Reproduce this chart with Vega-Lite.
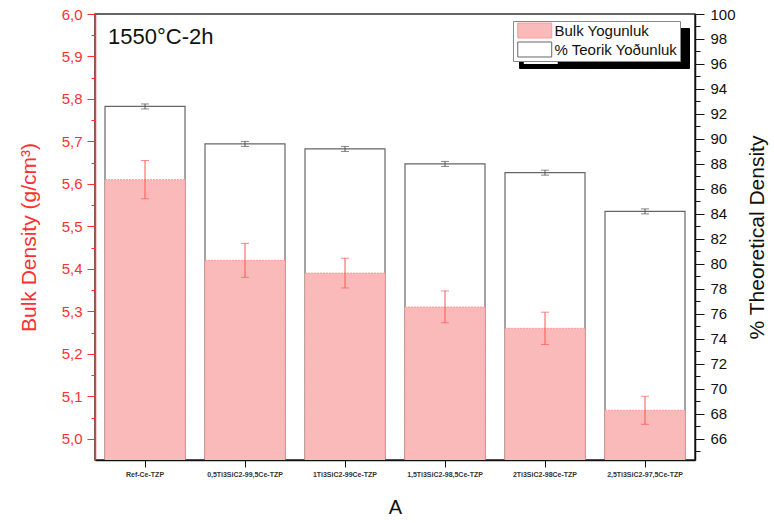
{
  "$schema": "https://vega.github.io/schema/vega-lite/v6.json",
  "width": 600,
  "height": 446,
  "autosize": "none",
  "padding": {"left": 95, "top": 14, "right": 79, "bottom": 63},
  "background": "white",
  "config": {
    "font": "Liberation Sans",
    "view": {"stroke": "#333", "strokeWidth": 1.5},
    "axis": {"grid": false, "labelFont": "Liberation Sans", "titleFont": "Liberation Sans", "titleFontWeight": "normal", "labelOverlap": false}
  },
  "title": {"text": "1550°C-2h", "anchor": "start", "frame": "group", "offset": -42, "dx": 13, "fontSize": 22, "fontWeight": "normal", "color": "#111", "font": "Liberation Sans"},
  "data": {
    "values": [
      {"sample": "Ref-Ce-TZP", "bulk": 5.61, "bulk_lo": 5.565, "bulk_hi": 5.655, "theo": 92.6, "theo_lo": 92.4, "theo_hi": 92.8},
      {"sample": "0,5Ti3SiC2-99,5Ce-TZP", "bulk": 5.42, "bulk_lo": 5.38, "bulk_hi": 5.46, "theo": 89.6, "theo_lo": 89.4, "theo_hi": 89.8},
      {"sample": "1Ti3SiC2-99Ce-TZP", "bulk": 5.39, "bulk_lo": 5.355, "bulk_hi": 5.425, "theo": 89.2, "theo_lo": 89.0, "theo_hi": 89.4},
      {"sample": "1,5Ti3SiC2-98,5Ce-TZP", "bulk": 5.31, "bulk_lo": 5.273, "bulk_hi": 5.348, "theo": 88.0, "theo_lo": 87.8, "theo_hi": 88.2},
      {"sample": "2Ti3SiC2-98Ce-TZP", "bulk": 5.26, "bulk_lo": 5.222, "bulk_hi": 5.298, "theo": 87.3, "theo_lo": 87.1, "theo_hi": 87.5},
      {"sample": "2,5Ti3SiC2-97,5Ce-TZP", "bulk": 5.067, "bulk_lo": 5.034, "bulk_hi": 5.1, "theo": 84.2, "theo_lo": 84.0, "theo_hi": 84.4}
    ]
  },
  "encoding": {
    "x": {
      "field": "sample", "type": "nominal", "sort": null,
      "scale": {"paddingInner": 0.2, "paddingOuter": 0.1},
      "axis": {"title": "A", "titleFontSize": 20, "titleColor": "#111", "titlePadding": 20, "labelAngle": 0, "labelFontSize": 7, "labelFontWeight": "bold", "labelColor": "#333", "labelPadding": 3, "tickSize": 7, "tickColor": "#111", "domainColor": "#111", "domainWidth": 1.5}
    }
  },
  "layer": [
    {
      "layer": [
        {
          "mark": {"type": "bar", "clip": true, "strokeWidth": 1.2},
          "encoding": {
            "y": {"field": "theo", "type": "quantitative", "scale": {"domain": [64.3, 100], "zero": false, "nice": false},
              "axis": {"orient": "right", "title": "% Theoretical Density", "titleAngle": 270, "titleBaseline": "top", "titleFontSize": 21, "titleColor": "#111", "titlePadding": 20, "values": [66,70,74,78,82,86,90,94,98], "labelFontSize": 15, "labelColor": "#111", "tickSize": 9, "tickColor": "#111", "domainColor": "#111", "domainWidth": 1.5, "labelPadding": 6}},
            "fill": {"datum": "% Teorik Yoðunluk", "type": "nominal",
              "scale": {"domain": ["Bulk Yogunluk", "% Teorik Yoðunluk"], "range": ["#fbbaba", "#ffffff"]},
              "legend": {"orient": "none", "legendX": 418, "legendY": 7, "title": null, "zindex": 2, "padding": 2, "rowPadding": 0, "symbolType": "M-1,-1.58H6.16V1.58H-1Z", "symbolSize": 90, "labelOffset": 24.5, "labelFontSize": 15, "labelColor": "#111", "fillColor": "white", "strokeColor": "#888", "symbolStrokeWidth": 1}},
            "stroke": {"datum": "% Teorik Yoðunluk", "type": "nominal",
              "scale": {"domain": ["Bulk Yogunluk", "% Teorik Yoðunluk"], "range": ["#ff9a9a", "#666666"]}},
            "opacity": {"datum": "s2", "type": "nominal",
              "scale": {"domain": ["s1", "s2"], "range": [1, 1]},
              "legend": {"orient": "none", "legendX": 424, "legendY": 14, "title": null, "zindex": 1, "padding": 2, "rowPadding": 0, "symbolType": "M-1,-1.58H6.16V1.58H-1Z", "symbolSize": 90, "labelOffset": 150.5, "labelFontSize": 15, "labelColor": "#000", "fillColor": "#000", "strokeColor": "#000", "symbolFillColor": "#000", "symbolStrokeColor": "#000", "symbolStrokeWidth": 1,
                "labelExpr": "''"}}
          }
        },
        {
          "mark": {"type": "rule", "color": "#555", "strokeWidth": 1},
          "encoding": {"y": {"field": "theo_lo", "type": "quantitative"}, "y2": {"field": "theo_hi"}}
        },
        {
          "mark": {"type": "tick", "orient": "horizontal", "color": "#555", "size": 8, "thickness": 1},
          "encoding": {"y": {"field": "theo_lo", "type": "quantitative"}}
        },
        {
          "mark": {"type": "tick", "orient": "horizontal", "color": "#555", "size": 8, "thickness": 1},
          "encoding": {"y": {"field": "theo_hi", "type": "quantitative"}}
        }
      ]
    },
    {
      "layer": [
        {
          "mark": {"type": "bar", "clip": true, "strokeWidth": 1, "strokeDash": [2, 1]},
          "encoding": {
            "y": {"field": "bulk", "type": "quantitative", "scale": {"domain": [4.95, 6.0], "zero": false, "nice": false},
              "axis": {"orient": "left", "title": "Bulk Density (g/cm³)", "titleFontSize": 21, "titleColor": "#ff3030", "titlePadding": 22, "values": [5.0,5.1,5.2,5.3,5.4,5.5,5.6,5.7,5.8,5.9,6.0], "labelExpr": "replace(format(datum.value, '.1f'), '.', ',')", "labelFontSize": 15, "labelColor": "#ff3030", "tickSize": 8, "tickColor": "#ff3030", "domainColor": "#ff3030", "domainWidth": 1.5, "labelPadding": 5}},
            "fill": {"datum": "Bulk Yogunluk", "type": "nominal"},
            "stroke": {"datum": "Bulk Yogunluk", "type": "nominal"}
          }
        },
        {
          "mark": {"type": "rule", "color": "#ff5555", "strokeWidth": 1},
          "encoding": {"y": {"field": "bulk_lo", "type": "quantitative"}, "y2": {"field": "bulk_hi"}}
        },
        {
          "mark": {"type": "tick", "orient": "horizontal", "color": "#ff5555", "size": 8, "thickness": 1},
          "encoding": {"y": {"field": "bulk_lo", "type": "quantitative"}}
        },
        {
          "mark": {"type": "tick", "orient": "horizontal", "color": "#ff5555", "size": 8, "thickness": 1},
          "encoding": {"y": {"field": "bulk_hi", "type": "quantitative"}}
        }
      ]
    },
    {
      "mark": {"type": "tick", "opacity": 0},
      "encoding": {
        "y": {"field": "bulk", "type": "quantitative", "scale": {"domain": [4.95, 6.0], "zero": false, "nice": false},
          "axis": {"orient": "left", "title": null, "labels": false, "domain": false, "tickSize": 4, "tickColor": "#ff3030", "values": [5.05,5.15,5.25,5.35,5.45,5.55,5.65,5.75,5.85,5.95]}}
      }
    },
    {
      "mark": {"type": "tick", "opacity": 0},
      "encoding": {
        "y": {"field": "theo", "type": "quantitative", "scale": {"domain": [64.3, 100], "zero": false, "nice": false},
          "axis": {"orient": "right", "title": null, "domain": false, "tickSize": 9, "tickColor": "#111", "labelFontSize": 15, "labelColor": "#111", "labelPadding": 6, "values": [68,72,76,80,84,88,92,96,100]}}
      }
    },
    {
      "mark": {"type": "tick", "opacity": 0},
      "encoding": {
        "y": {"field": "theo", "type": "quantitative", "scale": {"domain": [64.3, 100], "zero": false, "nice": false},
          "axis": {"orient": "right", "title": null, "labels": false, "domain": false, "tickSize": 5, "tickColor": "#111", "values": [65,67,69,71,73,75,77,79,81,83,85,87,89,91,93,95,97,99]}}
      }
    }
  ],
  "resolve": {"scale": {"y": "independent"}}
}
